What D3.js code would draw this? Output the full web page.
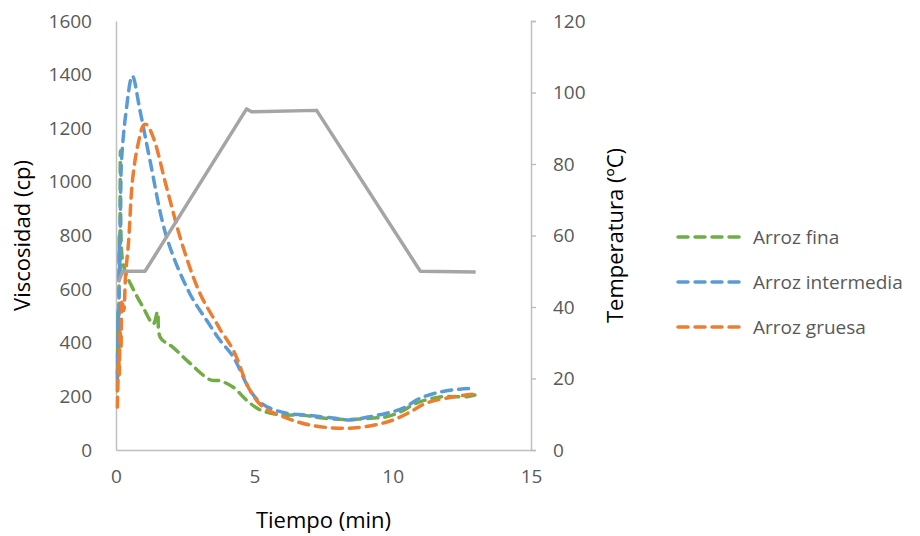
<!DOCTYPE html>
<html>
<head>
<meta charset="utf-8">
<script src="https://cdn.jsdelivr.net/npm/d3@7"></script>
<style>
  html, body { margin: 0; padding: 0; background: #fff; overflow: hidden; }
  svg { display: block; }
  text { font-family: "Open Sans", "Noto Sans", sans-serif; }
</style>
</head>
<body>
<div id="chart"></div>
<script>
const width = 920;
const height = 536;
const margin = { top: 21, bottom: 86, left: 116, right: 389 };
const innerWidth = width - margin.left - margin.right;
const innerHeight = height - margin.top - margin.bottom;

const xTicks = [0, 5, 10, 15];
const viscTicks = [0, 200, 400, 600, 800, 1000, 1200, 1400, 1600];
const tempTicks = [0, 20, 40, 60, 80, 100, 120];

const seriesNames = ['Arroz fina', 'Arroz intermedia', 'Arroz gruesa'];
const seriesColors = ['#70ad47', '#5b9bd5', '#ed7d31'];

// [tiempo (min), viscosidad (cp)]
const arrozFina = [
  [0.05, 220], [0.08, 520], [0.1, 380], [0.12, 800], [0.14, 650], [0.16, 1116],
  [0.22, 720], [0.35, 660], [0.62, 600], [0.98, 532], [1.35, 470], [1.5, 515],
  [1.6, 420], [2.06, 383], [2.67, 324], [3.4, 262], [3.76, 258], [4.24, 234],
  [4.72, 186], [5.2, 150], [5.93, 131], [6.77, 130], [7.37, 120], [8.34, 114],
  [9.3, 119], [9.78, 124], [10.26, 141], [10.87, 175], [11.71, 198], [12.68, 199],
  [12.97, 205]
];
const arrozIntermedia = [
  [0.05, 260], [0.08, 520], [0.1, 420], [0.12, 760], [0.14, 640], [0.17, 980],
  [0.2, 1080], [0.35, 1250], [0.59, 1395], [0.87, 1265], [1.23, 1079], [1.83, 794],
  [2.67, 583], [3.3, 480], [3.76, 409], [4.24, 347], [4.84, 223], [5.2, 179],
  [5.57, 156], [6.17, 137], [6.89, 130], [7.85, 119], [8.46, 112], [9.06, 122],
  [9.78, 137], [10.38, 156], [10.99, 193], [11.71, 216], [12.43, 227], [12.97, 230]
];
const arrozGruesa = [
  [0.05, 160], [0.1, 350], [0.12, 280], [0.15, 450], [0.18, 380], [0.22, 560],
  [0.28, 520], [0.35, 660], [0.45, 770], [0.6, 1010], [0.8, 1142], [1.0, 1212],
  [1.1, 1214], [1.35, 1165], [1.83, 979], [2.43, 755], [3.04, 583], [3.64, 472],
  [3.76, 450], [4.24, 372], [4.84, 223], [5.32, 160], [6.17, 119], [7.01, 93],
  [7.85, 82], [8.57, 82], [9.3, 92], [10.02, 112], [10.62, 141], [11.22, 175],
  [12.19, 198], [12.91, 208]
];
// [tiempo (min), temperatura (ºC)]
const temperatura = [
  [0.08, 47], [0.25, 50], [1.05, 50], [4.72, 95.4], [4.9, 94.6], [7.25, 95],
  [11.0, 50], [13.0, 49.8]
];

const viscSeries = [arrozFina, arrozIntermedia, arrozGruesa];

const svg = d3.select('#chart').append('svg')
  .attr('width', width)
  .attr('height', height);

const g = svg.append('g')
  .attr('transform', `translate(${margin.left}, ${margin.top})`);

const xScale = d3.scaleLinear().domain([0, 15]).range([0, innerWidth]);
const yScale = d3.scaleLinear().domain([0, 1600]).range([innerHeight, 0]);
const tScale = d3.scaleLinear().domain([0, 120]).range([innerHeight, 0]);

const axisColor = '#bfbfbf';
const labelColor = '#595959';
const tickSize = 19;
const titleSize = 22;
const dash = '10,7';
const lineWidth = 3.5;

// Left axis
const yAxisG = g.append('g')
  .call(d3.axisLeft(yScale).tickValues(viscTicks).tickFormat(d3.format('d'))
    .tickSize(0).tickPadding(24));
// Right axis
const tAxisG = g.append('g')
  .attr('transform', `translate(${innerWidth}, 0)`)
  .call(d3.axisRight(tScale).tickValues(tempTicks).tickFormat(d3.format('d'))
    .tickSize(5).tickPadding(17));
// Bottom axis
const xAxisG = g.append('g')
  .attr('transform', `translate(0, ${innerHeight})`)
  .call(d3.axisBottom(xScale).tickValues(xTicks).tickFormat(d3.format('d'))
    .tickSize(0).tickPadding(20));

[yAxisG, tAxisG, xAxisG].forEach(a => {
  a.attr('font-family', null).attr('font-size', null);
  a.select('.domain').attr('stroke', axisColor).attr('stroke-width', 1.5);
  a.selectAll('.tick line').attr('stroke', axisColor).attr('stroke-width', 1.5);
  a.selectAll('.tick text')
    .attr('fill', labelColor)
    .style('font-size', tickSize + 'px');
});

// Axis titles
g.append('text')
  .attr('transform', `translate(${22 - margin.left}, ${innerHeight / 2}) rotate(-90)`)
  .attr('text-anchor', 'middle')
  .attr('dy', '0.35em')
  .style('font-size', titleSize + 'px')
  .attr('fill', '#000')
  .text('Viscosidad (cp)');

g.append('text')
  .attr('transform', `translate(${615 - margin.left}, ${innerHeight / 2}) rotate(-90)`)
  .attr('text-anchor', 'middle')
  .attr('dy', '0.35em')
  .style('font-size', titleSize + 'px')
  .attr('fill', '#000')
  .text('Temperatura (ºC)');

g.append('text')
  .attr('x', innerWidth / 2)
  .attr('y', 520 - margin.top)
  .attr('text-anchor', 'middle')
  .attr('dy', '0.35em')
  .style('font-size', titleSize + 'px')
  .attr('fill', '#000')
  .text('Tiempo (min)');

// Viscosity lines
const viscLine = d3.line()
  .x(d => xScale(d[0]))
  .y(d => yScale(d[1]))
  .curve(d3.curveCatmullRom.alpha(0.5));

viscSeries.forEach((s, i) => {
  g.append('path')
    .datum(s)
    .attr('d', viscLine)
    .attr('fill', 'none')
    .attr('stroke', seriesColors[i])
    .attr('stroke-width', lineWidth)
    .attr('stroke-dasharray', dash)
    .attr('stroke-linecap', 'round');
});

// Temperature line
const tempLine = d3.line()
  .x(d => xScale(d[0]))
  .y(d => tScale(d[1]));

g.append('path')
  .datum(temperatura)
  .attr('d', tempLine)
  .attr('fill', 'none')
  .attr('stroke', '#a5a5a5')
  .attr('stroke-width', lineWidth)
  .attr('stroke-linejoin', 'round');

// Legend
const legend = svg.append('g');
seriesNames.forEach((name, i) => {
  const y = 237 + i * 45;
  legend.append('line')
    .attr('x1', 678).attr('x2', 745)
    .attr('y1', y).attr('y2', y)
    .attr('stroke', seriesColors[i])
    .attr('stroke-width', lineWidth)
    .attr('stroke-dasharray', dash)
    .attr('stroke-linecap', 'round');
  legend.append('text')
    .attr('x', 753)
    .attr('y', y)
    .attr('dy', '0.35em')
    .style('font-size', tickSize + 'px')
    .attr('fill', labelColor)
    .text(name);
});
</script>
</body>
</html>
